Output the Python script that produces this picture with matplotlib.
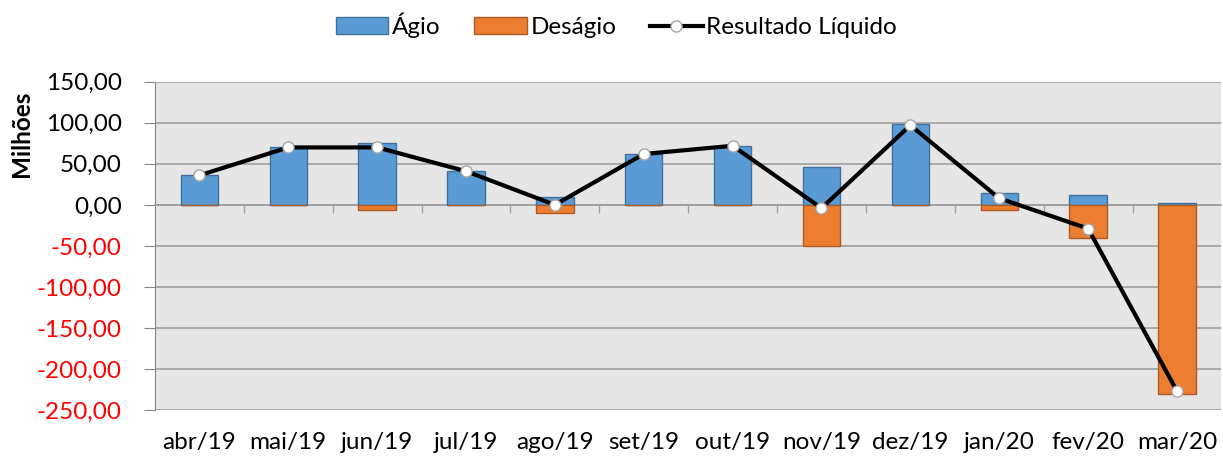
import numpy as np
import matplotlib.pyplot as plt
from matplotlib.patches import Patch
from matplotlib.lines import Line2D

plt.rcParams['font.family'] = ['Lato', 'DejaVu Sans']

meses = ['abr/19', 'mai/19', 'jun/19', 'jul/19', 'ago/19', 'set/19',
         'out/19', 'nov/19', 'dez/19', 'jan/20', 'fev/20', 'mar/20']
agio = [36, 70, 75, 41, 10, 62, 72, 46, 98, 14, 12, 2]
desagio = [0, 0, -6, 0, -10, 0, 0, -50, 0, -6, -41, -230]
resultado = [36, 70, 70, 41, 0, 62, 72, -4, 97, 8, -29, -227]
yticks = [150, 100, 50, 0, -50, -100, -150, -200, -250]

fs = 17.5

fig = plt.figure(figsize=(12.23, 4.57), dpi=100)
ax = fig.add_axes([0.1267, 0.103, 0.872, 0.718])
ax.set_facecolor('#e6e6e6')

x = np.arange(len(meses))
w = 0.42
ax.bar(x, agio, w, color='#5b9bd5', edgecolor='#41719c', linewidth=1, zorder=3)
ax.bar(x, desagio, w, color='#ed7d31', edgecolor='#ae5a21', linewidth=1, zorder=3)
ax.plot(x, resultado, color='black', lw=3, marker='o', ms=8,
        mfc='white', mec='#a6a6a6', mew=1, zorder=4)

ax.set_xlim(-0.5, len(meses) - 0.5)
ax.set_ylim(-250, 150)
ax.set_yticks(yticks)
ax.set_yticklabels([f'{v:.2f}'.replace('.', ',') for v in yticks], fontsize=fs)
for lbl, v in zip(ax.get_yticklabels(), yticks):
    lbl.set_color('red' if v < 0 else 'black')
ax.tick_params(axis='y', length=8, color='#868686', pad=16)
ax.grid(axis='y', color='#a0a0a0', lw=1.2, zorder=0)
ax.set_ylabel('Milhões', fontsize=fs, fontweight='bold')
ax.yaxis.set_label_coords(-0.114, 0.84)

# category axis crossing at zero
for s in ['top', 'right']:
    ax.spines[s].set_visible(False)
ax.spines['left'].set_color('#868686')
ax.spines['bottom'].set_position(('data', 0))
ax.spines['bottom'].set_color('#a0a0a0')
ax.spines['bottom'].set_linewidth(1.2)
ax.set_xticks(x)
ax.set_xticklabels([])
ax.tick_params(axis='x', which='major', length=0)
ax.set_xticks(np.arange(0.5, len(meses) - 1, 1), minor=True)
ax.tick_params(axis='x', which='minor', length=6, color='#a0a0a0', width=1)

sec = ax.secondary_xaxis(0)
sec.set_xticks(x)
sec.set_xticklabels(meses, fontsize=fs)
sec.tick_params(length=0, pad=16)
sec.spines['bottom'].set_visible(False)

handles = [Patch(facecolor='#5b9bd5', edgecolor='#41719c'),
           Patch(facecolor='#ed7d31', edgecolor='#ae5a21'),
           Line2D([], [], color='black', lw=3, marker='o', ms=8,
                  mfc='white', mec='#a6a6a6')]
fig.legend(handles, ['Ágio', 'Deságio', 'Resultado Líquido'], loc='upper center',
           bbox_to_anchor=(0.504, 1.02), ncol=3, frameon=False, fontsize=fs,
           handlelength=2.15, handletextpad=0.15, columnspacing=1.4)

fig.savefig('out.png', dpi=100)
